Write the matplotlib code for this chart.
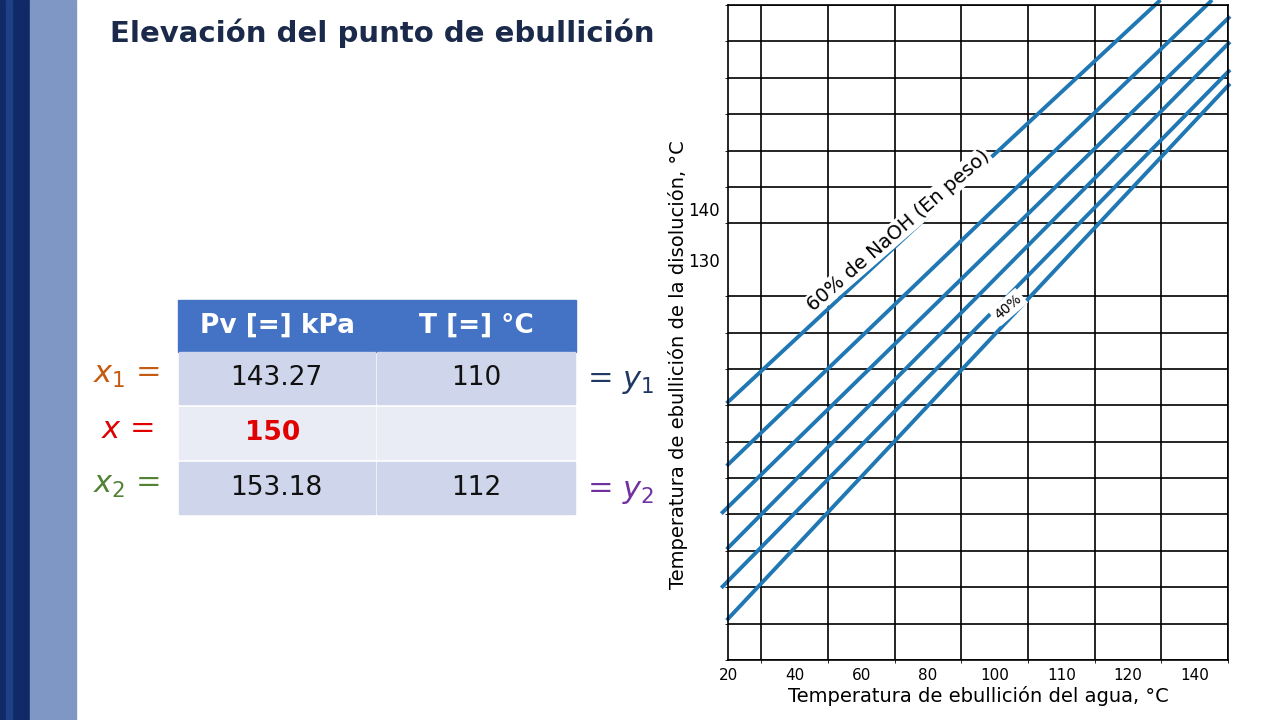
import matplotlib.pyplot as plt
from matplotlib.patches import Rectangle

# Dühring chart: grid units (15 columns x 18 rows)
x_tick_pos = [0, 2, 4, 6, 8, 10, 12, 14]
x_tick_labels = ["20", "40", "60", "80", "100", "110", "120", "140"]
y_tick_pos = [12.4, 11.0]
y_tick_labels = ["140", "130"]
line_x0 = [0.0, 0.0, -0.16, 0.0, -0.16, 0.0]
line_y0 = [7.09, 5.37, 4.06, 3.08, 2.02, 1.13]
line_x1 = [12.93, 14.48, 15.02, 15.02, 15.02, 15.02]
line_y1 = [18.1, 18.1, 17.65, 16.95, 16.18, 15.8]

# table values
headers = ["Pv [=] kPa", "T [=] °C"]
pv = ["143.27", "150", "153.18"]
temp = ["110", "", "112"]
left_labels = [r"$x_1$ =", r"$x$ =", r"$x_2$ ="]
left_colors = ["#C55A11", "#E00000", "#548235"]
right_labels = [r"= $y_1$", "", r"= $y_2$"]
right_colors = ["#1F3864", "", "#7030A0"]

fig = plt.figure(figsize=(12.8, 7.2), dpi=100)
W, H = 1280, 720

# slide background (pixel coordinates)
bg = fig.add_axes([0, 0, 1, 1])
bg.set_xlim(0, W)
bg.set_ylim(H, 0)
bg.set_axis_off()
bg.add_patch(Rectangle((0, 0), 30, H, color="#0F2A66"))
bg.add_patch(Rectangle((30, 0), 46, H, color="#7E97C4"))
bg.add_patch(Rectangle((6, 0), 6, H, color="#1F3F86"))
bg.text(110, 33, "Elevación del punto de ebullición", fontsize=21, fontweight="bold",
        color="#1B2A4A", va="center", ha="left")

# table
x_cols = [178, 376, 576]
row_top = [300, 353, 408, 463]
row_h = 54
bg.add_patch(Rectangle((178, 300), 398, 52, color="#4472C4"))
for i, hdr in enumerate(headers):
    bg.text((x_cols[i] + x_cols[i + 1]) / 2, 326, hdr, color="white", fontsize=19,
            fontweight="bold", ha="center", va="center")
row_colors = ["#CFD5EA", "#E9EBF5", "#CFD5EA"]
for r in range(3):
    y = row_top[r + 1] - 0
    for c in range(2):
        bg.add_patch(Rectangle((x_cols[c] + 1, row_top[r + 1] - 1), x_cols[c + 1] - x_cols[c] - 2, row_h - 2,
                               color=row_colors[r]))
    cy = row_top[r + 1] + row_h / 2 - 2
    if r == 1:
        bg.text(273, cy, pv[r], color="#E00000", fontsize=19, fontweight="bold", ha="center", va="center")
    else:
        bg.text(276, cy, pv[r], color="#111111", fontsize=19, ha="center", va="center")
    bg.text(476, cy, temp[r], color="#111111", fontsize=19, ha="center", va="center")
    bg.text(127, cy - 3, left_labels[r], color=left_colors[r], fontsize=22, ha="center", va="center",
            family="serif")
    if right_labels[r]:
        bg.text(620, cy + 2, right_labels[r], color=right_colors[r], fontsize=22, ha="center", va="center",
                family="serif")

# chart
ax = fig.add_axes([728 / W, 60 / H, 500 / W, 655 / H])
ax.set_xlim(0, 15)
ax.set_ylim(0, 18)
ax.set_xticks(range(16), minor=True)
ax.set_yticks(range(19), minor=True)
ax.grid(which="minor", color="black", linewidth=1.2)
ax.set_xticks(x_tick_pos)
ax.set_xticklabels(x_tick_labels, fontsize=11)
ax.set_yticks(y_tick_pos)
ax.set_yticklabels(y_tick_labels, fontsize=12)
ax.tick_params(length=0, pad=6)
for s in ax.spines.values():
    s.set_linewidth(1.2)
for x0, y0, x1, y1 in zip(line_x0, line_y0, line_x1, line_y1):
    ax.plot([x0, x1], [y0, y1], color="#1F77B4", linewidth=2.8, clip_on=False)
ax.text(5.1, 11.8, "60% de NaOH (En peso)", rotation=41, fontsize=14, ha="center", va="center",
        bbox=dict(facecolor="white", edgecolor="none", pad=1))
ax.text(8.4, 9.7, "40%", rotation=41, fontsize=10, ha="center", va="center",
        bbox=dict(facecolor="white", edgecolor="none", pad=2))
ax.set_xlabel("Temperatura de ebullición del agua, °C", fontsize=14, labelpad=2)
fig.text(678 / W, 1 - 365 / H, "Temperatura de ebullición de la disolución, °C", rotation=90,
         fontsize=14, ha="center", va="center")

fig.savefig("out.png", dpi=100)
